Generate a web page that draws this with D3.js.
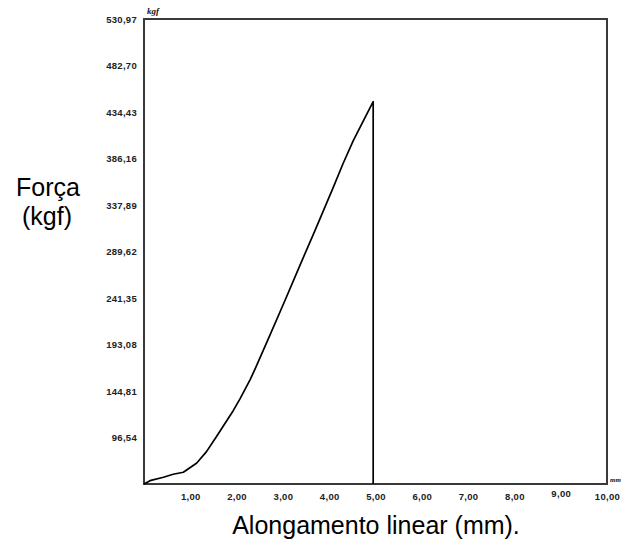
<!DOCTYPE html>
<html>
<head>
    <meta charset="utf-8">
    <title>Força x Alongamento</title>
    <script src="https://d3js.org/d3.v7.min.js"></script>
    <style>
        body { margin: 0; background: #fff; }
        .tick text { font-family: "Liberation Sans", Arial, sans-serif; font-weight: bold; font-size: 9.5px; fill: #222; letter-spacing: 0.3px; }
        .title { font-family: "Liberation Sans", Arial, sans-serif; font-size: 25px; fill: #000; }
        .unit { font-family: "Liberation Serif", serif; font-weight: bold; font-style: italic; font-size: 9px; fill: #111; }
    </style>
</head>
<body>
    <svg id="chart" width="621" height="544"></svg>

    <script>
        // curve: elongation (mm) vs force (kgf)
        const elongation = [0, 0.13, 0.42, 0.63, 0.85, 1.14, 1.35, 1.57, 1.93, 2.07, 2.29, 2.40, 2.72, 3.04, 3.37, 3.69, 4.09, 4.30, 4.52, 4.74, 4.95, 4.95];
        const force      = [0, 3.8, 7.7, 11.1, 13.4, 24.0, 37.0, 54.5, 84.0, 97.0, 119.0, 131.5, 170.0, 209.0, 250.0, 289.0, 339.0, 366.0, 392.0, 415.0, 436.6, 0];

        const yTickValues = [96.54, 144.81, 193.08, 241.35, 289.62, 337.89, 386.16, 434.43, 482.70, 530.97];
        const xTickValues = [1, 2, 3, 4, 5, 6, 7, 8, 9, 10];

        const svg = d3.select("svg#chart");
        const box = { left: 144, top: 19, right: 607, bottom: 484 };

        const x = d3.scaleLinear().domain([0, 10]).range([box.left, box.right]);
        const y = d3.scaleLinear().domain([0, 530.97]).range([box.bottom, box.top]);
        // the original software spaces its labels over 48,27 .. 530,97
        const yLabel = d3.scaleLinear().domain([48.27, 530.97]).range([box.bottom, box.top]);

        const comma = d => d.toFixed(2).replace(".", ",");

        // frame
        svg.append("rect")
            .attr("x", box.left)
            .attr("y", box.top)
            .attr("width", box.right - box.left)
            .attr("height", box.bottom - box.top)
            .style("fill", "none")
            .style("stroke", "#3a3a3a")
            .style("stroke-width", 2);

        // y labels
        const yAxis = svg.append("g")
            .attr("transform", "translate(" + (box.left - 7) + ",0)")
            .call(d3.axisLeft(yLabel).tickValues(yTickValues).tickSize(0).tickPadding(0).tickFormat(comma));
        yAxis.select(".domain").remove();

        // x labels
        const xAxis = svg.append("g")
            .attr("transform", "translate(0," + (box.bottom + 9) + ")")
            .call(d3.axisBottom(x).tickValues(xTickValues).tickSize(0).tickPadding(0).tickFormat(comma));
        xAxis.select(".domain").remove();
        xAxis.selectAll(".tick text")
            .attr("dy", d => d === 9 ? "0.45em" : "0.71em");

        // curve
        const points = elongation.map((e, i) => ({ e: e, f: force[i] }));
        const line = d3.line().x(d => x(d.e)).y(d => y(d.f));
        svg.append("path")
            .datum(points)
            .attr("d", line)
            .style("fill", "none")
            .style("stroke", "#000")
            .style("stroke-width", 1.7)
            .style("stroke-linejoin", "round");

        // small unit tags
        svg.append("text").attr("class", "unit")
            .attr("x", box.left + 3).attr("y", box.top - 5)
            .text("kgf");
        svg.append("text").attr("class", "unit")
            .attr("x", box.right + 3).attr("y", box.bottom - 2)
            .style("font-size", "7px")
            .text("mm");

        // titles
        svg.append("text").attr("class", "title")
            .attr("x", 48).attr("y", 196)
            .attr("text-anchor", "middle")
            .text("Força");
        svg.append("text").attr("class", "title")
            .attr("x", 47).attr("y", 225)
            .attr("text-anchor", "middle")
            .text("(kgf)");
        svg.append("text").attr("class", "title")
            .attr("x", 376).attr("y", 534)
            .attr("text-anchor", "middle")
            .text("Alongamento linear (mm).");
    </script>
</body>
</html>
